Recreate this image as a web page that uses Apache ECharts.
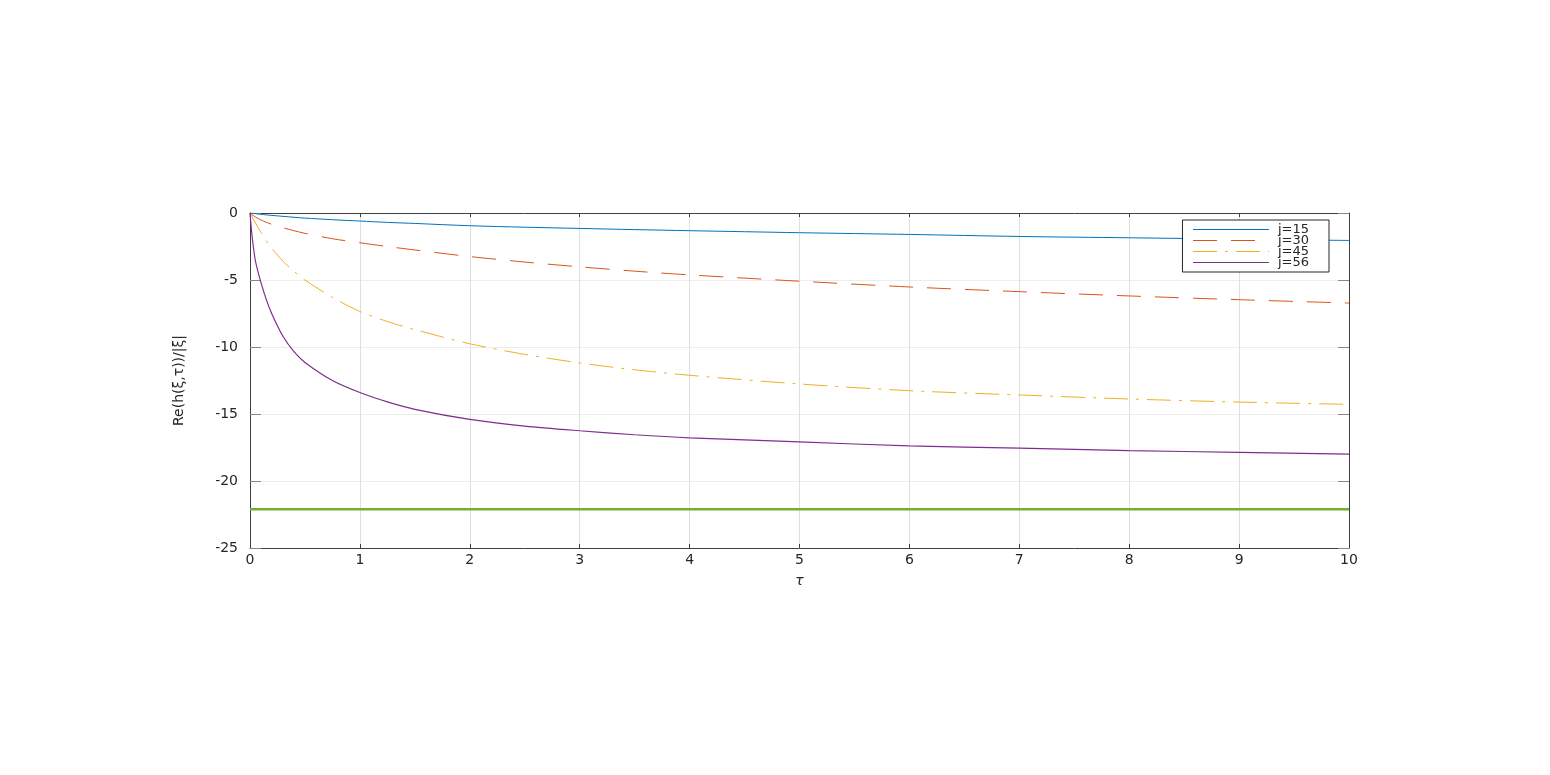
<!DOCTYPE html>
<html>
<head>
<meta charset="utf-8">
<title>Re(h(ξ,τ))/|ξ|</title>
<script src="https://cdn.jsdelivr.net/npm/echarts@6/dist/echarts.min.js"></script>
<style>
  html, body { margin: 0; padding: 0; background: #fff; }
  #chart { width: 1550px; height: 775px; }
</style>
</head>
<body>
<div id="chart"></div>
<script>
// tau sample points (x axis)
var tau = [0, 0.02, 0.05, 0.1, 0.15, 0.2, 0.3, 0.4, 0.5, 0.75, 1, 1.25, 1.5, 2, 2.5, 3, 3.5, 4, 5, 6, 7, 8, 9, 10];

var j15 = [0, -0.02, -0.05, -0.1, -0.14, -0.18, -0.25, -0.32, -0.38, -0.5, -0.6, -0.7, -0.78, -0.95, -1.06, -1.15, -1.24, -1.32, -1.47, -1.6, -1.75, -1.85, -1.95, -2.05];
var j30 = [0, -0.13, -0.3, -0.52, -0.7, -0.85, -1.1, -1.32, -1.52, -1.92, -2.22, -2.5, -2.76, -3.25, -3.66, -4.02, -4.34, -4.62, -5.09, -5.52, -5.87, -6.19, -6.47, -6.72];
var j45 = [0, -0.3, -0.75, -1.45, -2.1, -2.65, -3.6, -4.35, -5.0, -6.3, -7.35, -8.1, -8.7, -9.76, -10.55, -11.19, -11.7, -12.11, -12.76, -13.26, -13.58, -13.88, -14.11, -14.28];
var j56 = [0, -1.8, -3.6, -5.2, -6.5, -7.55, -9.2, -10.35, -11.15, -12.5, -13.4, -14.1, -14.65, -15.4, -15.9, -16.25, -16.55, -16.78, -17.08, -17.38, -17.55, -17.73, -17.86, -18.0];

// horizontal limit line
var limitX = [0, 10];
var limitY = [-22.1, -22.1];

var names = ['j=15', 'j=30', 'j=45', 'j=56'];

function pairs(xs, ys) {
  return xs.map(function (x, i) { return [x, ys[i]]; });
}

var font = 'DejaVu Sans';
var axisCol = '#404040';

var myChart = echarts.init(document.getElementById('chart'));
myChart.setOption({
  animation: false,
  grid: { left: 250, right: 201, top: 213, bottom: 227 },
  legend: {
    data: names,
    orient: 'vertical',
    right: 221,
    top: 220,
    itemWidth: 76,
    itemHeight: 8,
    itemGap: -2,
    padding: [3, 20, 3, 10],
    backgroundColor: '#fff',
    borderColor: '#262626',
    borderWidth: 1,
    borderRadius: 0,
    itemStyle: { opacity: 0 },
    lineStyle: { width: 1 },
    textStyle: { fontFamily: font, fontSize: 13, color: '#262626', padding: [0, 0, 0, 4] }
  },
  xAxis: [{
    type: 'value', min: 0, max: 10, interval: 1,
    name: 'τ', nameLocation: 'middle', nameGap: 26,
    nameTextStyle: { fontFamily: font, fontSize: 14, fontStyle: 'italic', color: '#262626' },
    axisLine: { onZero: false, lineStyle: { color: axisCol, width: 1 } },
    axisTick: { inside: true, length: 4, lineStyle: { color: axisCol } },
    axisLabel: { fontFamily: font, fontSize: 14, color: '#262626', margin: 5 },
    splitLine: { show: true, lineStyle: { color: '#dfdfdf', width: 1 } }
  }, {
    type: 'value', min: 0, max: 10, interval: 1, position: 'top',
    axisLine: { onZero: false, lineStyle: { color: axisCol, width: 1 } },
    axisTick: { inside: true, length: 4, lineStyle: { color: axisCol } },
    axisLabel: { show: false },
    splitLine: { show: false }
  }],
  yAxis: [{
    type: 'value', min: -25, max: 0, interval: 5,
    name: 'Re(h(ξ,τ))/|ξ|', nameLocation: 'middle', nameGap: 64,
    nameTextStyle: { fontFamily: font, fontSize: 14, color: '#262626' },
    axisLine: { show: true, onZero: false, lineStyle: { color: axisCol, width: 1 } },
    axisTick: { show: true, inside: true, length: 11, lineStyle: { color: '#888' } },
    axisLabel: { fontFamily: font, fontSize: 14, color: '#262626', margin: 12 },
    splitLine: { show: true, lineStyle: { color: '#ececec', width: 1 } }
  }, {
    type: 'value', min: -25, max: 0, interval: 5, position: 'right',
    axisLine: { show: true, onZero: false, lineStyle: { color: axisCol, width: 1 } },
    axisTick: { show: true, inside: true, length: 11, lineStyle: { color: '#888' } },
    axisLabel: { show: false },
    splitLine: { show: false }
  }],
  series: [{
    name: 'j=15', type: 'line', data: pairs(tau, j15), symbol: 'none',
    smooth: 0.3, color: '#0072BD',
    lineStyle: { width: 1, color: '#0072BD' }
  }, {
    name: 'j=30', type: 'line', data: pairs(tau, j30), symbol: 'none',
    smooth: 0.3, color: '#D95319',
    lineStyle: { width: 1, color: '#D95319', type: [24, 14] }
  }, {
    name: 'j=45', type: 'line', data: pairs(tau, j45), symbol: 'none',
    smooth: 0.3, color: '#EDB120',
    lineStyle: { width: 1, color: '#EDB120', type: [24, 8, 3, 8] }
  }, {
    name: 'j=56', type: 'line', data: pairs(tau, j56), symbol: 'none',
    smooth: 0.3, color: '#7E2F8E',
    lineStyle: { width: 1.2, color: '#7E2F8E' }
  }, {
    name: 'limit', type: 'line', data: pairs(limitX, limitY), symbol: 'none',
    color: '#77AC30',
    lineStyle: { width: 2.5, color: '#77AC30' }
  }]
});
</script>
</body>
</html>
